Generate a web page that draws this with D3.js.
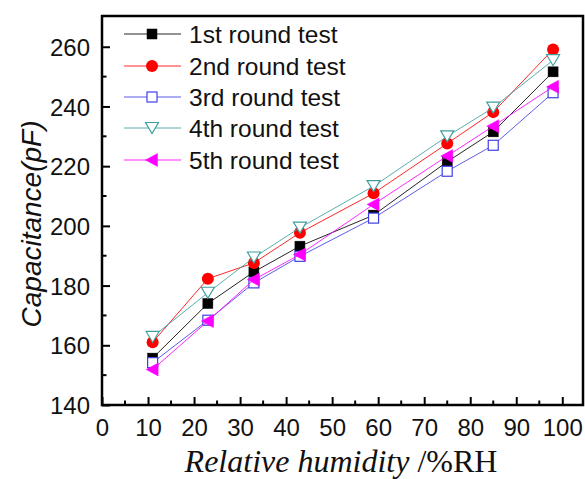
<!DOCTYPE html>
<html>
<head>
<meta charset="utf-8">
<script src="https://cdn.jsdelivr.net/npm/d3@7"></script>
<style>
  html, body { margin: 0; padding: 0; background: #fff; }
  svg { display: block; }
</style>
</head>
<body>
<svg id="chart" width="585" height="479"></svg>
<script>
// Relative humidity levels (%RH)
const humidity = [11, 23, 33, 43, 59, 75, 85, 98];

// Capacitance (pF) for each test round
const round1 = [155.7, 174.0, 184.6, 193.2, 203.6, 221.5, 231.5, 251.6];
const round2 = [161.0, 182.3, 187.6, 197.7, 210.9, 227.6, 238.1, 259.1];
const round3 = [154.2, 168.4, 180.9, 189.8, 202.6, 218.3, 227.0, 244.6];
const round4 = [162.8, 177.6, 189.4, 199.4, 213.3, 230.0, 239.6, 255.5];
const round5 = [151.9, 168.1, 182.0, 190.4, 207.2, 223.4, 233.4, 246.6];

const seriesNames = ["1st round test", "2nd round test", "3rd round test", "4th round test", "5th round test"];
const seriesColors = ["#000000", "#ff0000", "#3f3fe6", "#3f9f9f", "#ff00ff"];
const seriesMarkers = ["square", "circle", "openSquare", "downTriangle", "leftTriangle"];
const seriesValues = [round1, round2, round3, round4, round5];

const xTicks = [0, 10, 20, 30, 40, 50, 60, 70, 80, 90, 100];
const yTicks = [140, 160, 180, 200, 220, 240, 260];

const svg = d3.select("#chart");
const plot = { left: 102, right: 583, top: 16, bottom: 405 };

const x = d3.scaleLinear().domain([0, 104.5]).range([plot.left, plot.right]);
const y = d3.scaleLinear().domain([140, 270.3]).range([plot.bottom, plot.top]);

// Frame
svg.append("rect")
  .attr("x", plot.left).attr("y", plot.top)
  .attr("width", plot.right - plot.left).attr("height", plot.bottom - plot.top)
  .attr("fill", "none").attr("stroke", "#000").attr("stroke-width", 2.5);

// Minor ticks (every 5 units), pointing inward
const xMinor = d3.range(5, 101, 10);
const yMinor = d3.range(150, 270, 20);
svg.append("g").selectAll("line").data(xMinor).join("line")
  .attr("x1", d => x(d)).attr("x2", d => x(d))
  .attr("y1", plot.bottom).attr("y2", plot.bottom - 4.5)
  .attr("stroke", "#000").attr("stroke-width", 2);
svg.append("g").selectAll("line").data(yMinor).join("line")
  .attr("y1", d => y(d)).attr("y2", d => y(d))
  .attr("x1", plot.left).attr("x2", plot.left + 4.5)
  .attr("stroke", "#000").attr("stroke-width", 2);

// Axes with inward major ticks
const xAxis = d3.axisBottom(x).tickValues(xTicks).tickSize(-8).tickPadding(14).tickFormat(d3.format("d"));
const yAxis = d3.axisLeft(y).tickValues(yTicks).tickSize(-8).tickPadding(12).tickFormat(d3.format("d"));

const gx = svg.append("g").attr("transform", `translate(0,${plot.bottom})`).call(xAxis);
const gy = svg.append("g").attr("transform", `translate(${plot.left},0)`).call(yAxis);
[gx, gy].forEach(g => {
  g.select(".domain").remove();
  g.selectAll(".tick line").attr("stroke", "#000").attr("stroke-width", 2);
  g.selectAll(".tick text")
    .attr("fill", "#111")
    .style("font-family", "'Liberation Sans', Arial, sans-serif")
    .style("font-size", "24px");
});
gy.selectAll(".tick text").attr("dy", "0.36em");

// Axis titles
svg.append("text")
  .attr("transform", `translate(41,224) rotate(-90)`)
  .attr("text-anchor", "middle")
  .style("font-family", "'Liberation Sans', Arial, sans-serif")
  .style("font-size", "28px").style("font-style", "italic")
  .attr("fill", "#111")
  .text("Capacitance(pF)");

const xt = svg.append("text")
  .attr("x", 341).attr("y", 472)
  .attr("text-anchor", "middle")
  .style("font-family", "'Liberation Serif', 'Times New Roman', serif")
  .style("font-size", "32px")
  .attr("fill", "#111");
xt.append("tspan").style("font-style", "italic").text("Relative humidity ");
xt.append("tspan").text("/%RH");

// Marker drawing
function drawMarker(g, type, color) {
  switch (type) {
    case "square":
      g.append("rect").attr("x", -5).attr("y", -5).attr("width", 10).attr("height", 10)
        .attr("fill", color).attr("stroke", color).attr("stroke-width", 0.5);
      break;
    case "circle":
      g.append("circle").attr("r", 6).attr("fill", color);
      break;
    case "openSquare":
      g.append("rect").attr("x", -5).attr("y", -5).attr("width", 10).attr("height", 10)
        .attr("fill", "#fff").attr("stroke", color).attr("stroke-width", 1.2);
      break;
    case "downTriangle":
      g.append("path").attr("d", "M-6.5,-5.5 L6.5,-5.5 L0,5.5 Z")
        .attr("fill", "#fff").attr("stroke", color).attr("stroke-width", 1.2);
      break;
    case "leftTriangle":
      g.append("path").attr("d", "M-6.5,0 L5.5,-6.5 L5.5,6.5 Z")
        .attr("fill", color).attr("stroke", color).attr("stroke-width", 0.5);
      break;
  }
}

const line = d3.line().x(d => x(d[0])).y(d => y(d[1]));

seriesValues.forEach((vals, i) => {
  const pts = humidity.map((h, j) => [h, vals[j]]);
  const g = svg.append("g");
  g.append("path").datum(pts)
    .attr("d", line).attr("fill", "none")
    .attr("stroke", seriesColors[i]).attr("stroke-width", 1).attr("opacity", 0.85);
  pts.forEach(p => {
    const m = g.append("g").attr("transform", `translate(${x(p[0])},${y(p[1])})`);
    drawMarker(m, seriesMarkers[i], seriesColors[i]);
  });
});

// Legend
const legendRows = [34, 66, 97, 128, 160];
seriesNames.forEach((name, i) => {
  const g = svg.append("g").attr("transform", `translate(0,${legendRows[i]})`);
  g.append("line").attr("x1", 124).attr("x2", 181).attr("y1", 0).attr("y2", 0)
    .attr("stroke", seriesColors[i]).attr("stroke-width", 1).attr("opacity", 0.85);
  const m = g.append("g").attr("transform", "translate(152,0)");
  drawMarker(m, seriesMarkers[i], seriesColors[i]);
  g.append("text").attr("x", 189).attr("y", 0).attr("dy", "0.36em")
    .style("font-family", "'Liberation Sans', Arial, sans-serif")
    .style("font-size", "24.5px").attr("fill", "#111")
    .text(name);
});
</script>
</body>
</html>
